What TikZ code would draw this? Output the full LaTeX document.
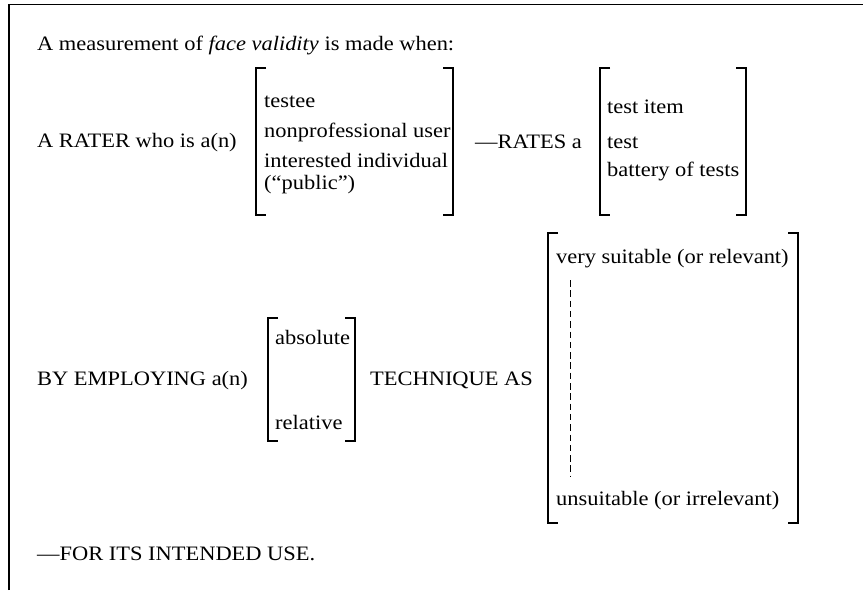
\documentclass[tikz,border=0pt]{standalone}
\usepackage{fontspec}
\setmainfont[FakeStretch=1.095]{Liberation Serif}
\begin{document}
\begin{tikzpicture}[x=1pt,y=-1pt,
  txt/.style={anchor=base west, inner sep=0pt, font=\fontsize{20.5}{24}\selectfont},
  brk/.style={line width=1.8pt},
  frame/.style={line width=1.8pt},
  scale line/.style={line width=0.8pt, dash pattern=on 6.5pt off 3.8pt}]
\useasboundingbox (0,0) rectangle (863,590);

% open frame: left and top rules only
\draw[frame] (9,590) -- (9,4.5) -- (863,4.5);

% square brackets: open at x, close at x, from top to bottom
\def\openbr#1#2#3{\draw[brk] (#1+10,#2) -- (#1,#2) -- (#1,#3) -- (#1+10,#3);}
\def\closebr#1#2#3{\draw[brk] (#1-10,#2) -- (#1,#2) -- (#1,#3) -- (#1-10,#3);}

\node[txt] (intro) at (37,50) {A measurement of \textit{face validity} is made when:};

% rater
\node[txt] (rater) at (37,147) {A RATER who is a(n)};
\openbr{256}{68}{215}
\node[txt] (testee) at (264,107) {testee};
\node[txt] (nonpro) at (264,137) {nonprofessional user};
\node[txt] (interest) at (264,167) {interested individual};
\node[txt] (public) at (264,189) {(“public”)};
\closebr{453}{68}{215}

% object rated
\node[txt] (rates) at (475,148) {—RATES a};
\openbr{600}{68}{215}
\node[txt] (item) at (607,113) {test item};
\node[txt] (test) at (607,148) {test};
\node[txt] (battery) at (607,176) {battery of tests};
\closebr{746}{68}{215}

% technique
\node[txt] (employ) at (37,385) {BY EMPLOYING a(n)};
\openbr{268}{318}{441}
\node[txt] (absolute) at (275,344) {absolute};
\node[txt] (relative) at (275,429) {relative};
\closebr{355}{318}{441}
\node[txt] (techas) at (370,385) {TECHNIQUE AS};

% rating scale
\openbr{548}{233}{523}
\node[txt] (suitable) at (556,263) {very suitable (or relevant)};
\coordinate (scaletop) at (570,280);
\coordinate (scalebot) at (570,477);
\draw[scale line] (scaletop) -- (scalebot);
\node[txt] (unsuitable) at (556,505) {unsuitable (or irrelevant)};
\closebr{798}{233}{523}

\node[txt] (use) at (37,560) {—FOR ITS INTENDED USE.};
\end{tikzpicture}
\end{document}
